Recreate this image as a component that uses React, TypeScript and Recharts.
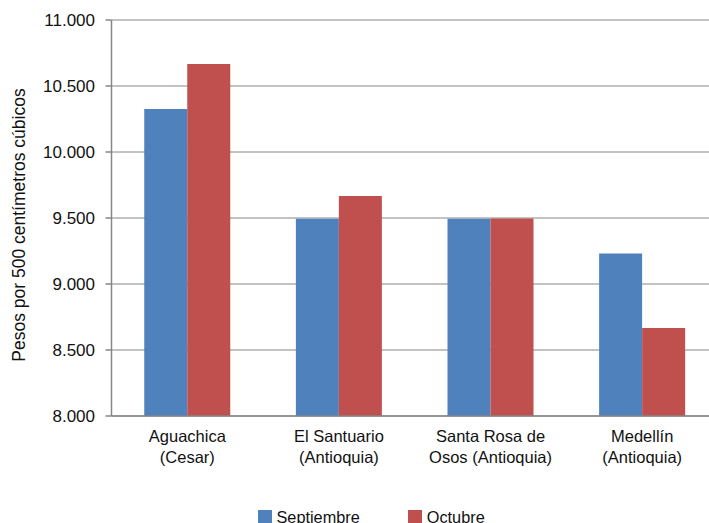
import React from "react";
import { BarChart, Bar, XAxis, YAxis, CartesianGrid, Legend } from "recharts";

const categoryLine1 = ["Aguachica", "El Santuario", "Santa Rosa de", "Medellín"];
const categoryLine2 = ["(Cesar)", "(Antioquia)", "Osos (Antioquia)", "(Antioquia)"];
const septiembre = [10325, 9495, 9495, 9232];
const octubre = [10667, 9667, 9497, 8667];
const yTicks = [8000, 8500, 9000, 9500, 10000, 10500, 11000];

const seriesNames = ["Septiembre", "Octubre"];
const seriesColors = ["#4F81BD", "#C0504D"];
const axisTitle = "Pesos por 500 centímetros cúbicos";

const data = categoryLine1.map((c, i) => ({
  name: c,
  line2: categoryLine2[i],
  sep: septiembre[i],
  oct: octubre[i],
}));

const FONT = "'Liberation Sans', Arial, sans-serif";
const GRAY = "#868686";

const fmt = (v: number) => {
  const s = String(Math.round(v));
  return s.replace(/\B(?=(\d{3})+(?!\d))/g, ".");
};

const XTick = (props: any) => {
  const { x, payload, index } = props;
  return (
    <text x={x} textAnchor="middle" fontFamily={FONT} fontSize={16.5} fill="#111">
      <tspan x={x} y={441.5}>{payload.value}</tspan>
      <tspan x={x} y={462.5}>{categoryLine2[index]}</tspan>
    </text>
  );
};

const LegendContent = () => (
  <div style={{ display: "flex", alignItems: "center", fontFamily: FONT, fontSize: 16.3, color: "#111" }}>
    {seriesNames.map((n, i) => (
      <div key={n} style={{ display: "flex", alignItems: "center", marginRight: i === 0 ? 48 : 0 }}>
        <div style={{ width: 14, height: 14, background: seriesColors[i], marginRight: 5 }} />
        <span style={{ lineHeight: "16px" }}>{n}</span>
      </div>
    ))}
  </div>
);

const YLabel = () => (
  <text
    x={24.5}
    y={225}
    transform="rotate(-90, 24.5, 225)"
    textAnchor="middle"
    fontFamily={FONT}
    fontSize={17.5}
    fill="#111"
  >
    {axisTitle}
  </text>
);

export default function App() {
  return (
    <div
      style={{
        position: "absolute",
        left: 0,
        top: 0,
        width: 709,
        height: 523,
        overflow: "hidden",
        background: "#fff",
      }}
    >
      <BarChart
        width={720}
        height={523}
        data={data}
        margin={{ top: 20, right: 2, bottom: 0, left: 0 }}
        barCategoryGap="21.6%"
        barGap={0}
      >
        <CartesianGrid vertical={false} stroke={GRAY} strokeWidth={1} />
        <XAxis
          dataKey="name"
          height={107}
          axisLine={{ stroke: GRAY, strokeWidth: 1.5 }}
          tickLine={false}
          tick={<XTick />}
          interval={0}
        />
        <YAxis
          width={111.5}
          domain={[8000, 11000]}
          ticks={yTicks}
          allowDataOverflow
          axisLine={{ stroke: GRAY, strokeWidth: 1.5 }}
          tickLine={{ stroke: GRAY, strokeWidth: 1.5 }}
          tickSize={6}
          tickMargin={10.5}
          tickFormatter={fmt}
          tick={{ fontFamily: FONT, fontSize: 17, fill: "#111" }}
          label={<YLabel />}
        />
        <Legend
          verticalAlign="middle"
          align="center"
          layout="horizontal"
          wrapperStyle={{ top: 509, left: 257.5, width: 320, height: 16 }}
          content={<LegendContent />}
        />
        <Bar dataKey="sep" name={seriesNames[0]} fill={seriesColors[0]} isAnimationActive={false} />
        <Bar dataKey="oct" name={seriesNames[1]} fill={seriesColors[1]} isAnimationActive={false} />
      </BarChart>
    </div>
  );
}
